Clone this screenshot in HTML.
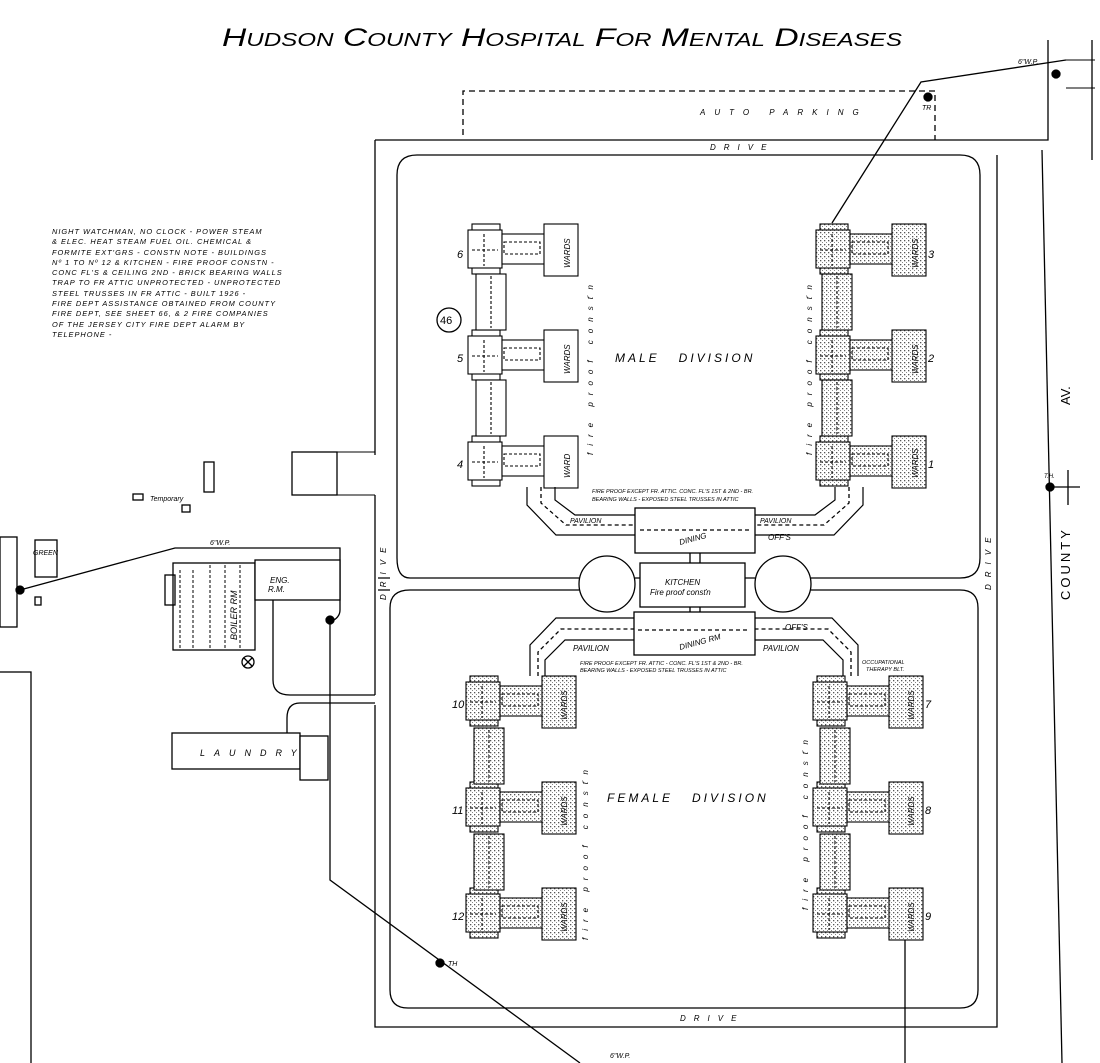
<!DOCTYPE html>
<html><head><meta charset="utf-8"><style>
html,body{margin:0;padding:0;background:#fff;}
svg{display:block;font-family:"Liberation Sans",sans-serif;font-style:italic;}
</style></head><body>
<svg width="1100" height="1063" viewBox="0 0 1100 1063" xmlns="http://www.w3.org/2000/svg">
<defs>
<pattern id="dots" width="4" height="4" patternUnits="userSpaceOnUse">
<rect width="4" height="4" fill="#fff"/><rect x="0" y="0" width="1.3" height="1.3" fill="#555"/><rect x="2" y="2" width="1" height="1" fill="#888"/>
</pattern>
<g id="unit">
<rect x="4" y="0" width="28" height="50" fill="inherit"/>
<rect x="0" y="6" width="34" height="38"/>
<rect x="34" y="10" width="44" height="30"/>
<rect x="76" y="0" width="34" height="52"/>
<path d="M36 18 H72 V30 H36 Z" fill="none" stroke-dasharray="3,2"/>
<path d="M4 26 H30 M16 10 V42" fill="none" stroke-dasharray="3,2"/>
</g>
<g id="spine"><rect x="0" y="0" width="30" height="56"/><path d="M15 2 V54" fill="none" stroke-dasharray="3,2"/></g>
</defs>
<g fill="none" stroke="#000" stroke-width="1.3" font-style="italic">
<text x="222" y="46" font-size="25" fill="#000" stroke="none" textLength="680" lengthAdjust="spacingAndGlyphs" style="font-variant:small-caps">Hudson County Hospital For Mental Diseases</text>
<!-- parking -->
<path d="M463 135 V91 H935 V140" stroke-dasharray="6,4"/>
<text x="700" y="115" font-size="8" fill="#000" stroke="none" letter-spacing="9">AUTO PARKING</text>
<!-- outer drive -->
<path d="M375 140 H1048 V40"/>
<path d="M375 140 V455 M375 495 V695 M375 705 V1027 H997 V155"/>
<path d="M1092 40 V160"/>
<path d="M1042 150 L1062 1063"/>
<path d="M1066 60 H1095 M1066 88 H1095" stroke-width="1"/>
<!-- inner upper -->
<path d="M410 578 H579 M635 578 H755 M811 578 H960 Q980 578 980 558 V175 Q980 155 960 155 H417 Q397 155 397 175 V558 Q397 578 410 578"/>
<path d="M410 590 H579 M811 590 H960 Q978 590 978 608 V990 Q978 1008 960 1008 H408 Q390 1008 390 990 V608 Q390 590 410 590"/>
<circle cx="607" cy="584" r="28" fill="#fff"/>
<circle cx="783" cy="584" r="28" fill="#fff"/>
<path d="M378 578 H390 M378 590 H390"/>
<text x="710" y="150" font-size="8" fill="#000" stroke="none" letter-spacing="8">DRIVE</text>
<text x="680" y="1021" font-size="8" fill="#000" stroke="none" letter-spacing="8">DRIVE</text>
<text font-size="8" fill="#000" stroke="none" letter-spacing="7" transform="translate(386,600) rotate(-90)">DRIVE</text>
<text font-size="8" fill="#000" stroke="none" letter-spacing="7" transform="translate(991,590) rotate(-90)">DRIVE</text>
<text font-size="13" fill="#000" stroke="none" letter-spacing="3" transform="translate(1070,600) rotate(-90)" font-style="normal">COUNTY</text>
<text font-size="13" fill="#000" stroke="none" transform="translate(1070,405) rotate(-90)" font-style="normal">AV.</text>
<path d="M1054 487 H1080 M1068 470 V505"/>
<circle cx="1050" cy="487" r="4" fill="#000"/>
<text x="1044" y="478" font-size="6" fill="#000" stroke="none">T.H.</text>
<!-- division labels -->
<text x="615" y="362" font-size="12" fill="#000" stroke="none" letter-spacing="3">MALE&#160;&#160;&#160;DIVISION</text>
<text x="607" y="802" font-size="12" fill="#000" stroke="none" letter-spacing="3">FEMALE&#160;&#160;&#160;DIVISION</text>
<text font-size="8" fill="#000" stroke="none" letter-spacing="7" transform="translate(593,455) rotate(-90)">fire proof consťn</text>
<text font-size="8" fill="#000" stroke="none" letter-spacing="7" transform="translate(812,455) rotate(-90)">fire proof consťn</text>
<text font-size="8" fill="#000" stroke="none" letter-spacing="7" transform="translate(588,940) rotate(-90)">fire proof consťn</text>
<text font-size="8" fill="#000" stroke="none" letter-spacing="7" transform="translate(808,910) rotate(-90)">fire proof consťn</text>
<!-- male units -->
<g fill="#fff" stroke="#000" stroke-width="1.1">
<use href="#unit" x="468" y="224"/><use href="#unit" x="468" y="330"/><use href="#unit" x="468" y="436"/>
<use href="#spine" x="476" y="274"/><use href="#spine" x="476" y="380"/>
</g>
<g fill="url(#dots)" stroke="#000" stroke-width="1.1">
<use href="#unit" x="816" y="224"/><use href="#unit" x="816" y="330"/><use href="#unit" x="816" y="436"/>
<use href="#spine" x="822" y="274"/><use href="#spine" x="822" y="380"/>
</g>
<!-- female units -->
<g fill="url(#dots)" stroke="#000" stroke-width="1.1">
<use href="#unit" x="466" y="676"/><use href="#unit" x="466" y="782"/><use href="#unit" x="466" y="888"/>
<use href="#spine" x="474" y="728"/><use href="#spine" x="474" y="834"/>
<use href="#unit" x="813" y="676"/><use href="#unit" x="813" y="782"/><use href="#unit" x="813" y="888"/>
<use href="#spine" x="820" y="728"/><use href="#spine" x="820" y="834"/>
</g>
<g fill="#000" stroke="none" font-size="11">
<text x="457" y="258">6</text><text x="457" y="362">5</text><text x="457" y="468">4</text>
<text x="928" y="258">3</text><text x="928" y="362">2</text><text x="928" y="468">1</text>
<text x="452" y="708">10</text><text x="452" y="814">11</text><text x="452" y="920">12</text>
<text x="925" y="708">7</text><text x="925" y="814">8</text><text x="925" y="920">9</text>
</g>
<g fill="#000" stroke="none" font-size="8">
<text transform="translate(570,268) rotate(-90)">WARDS</text><text transform="translate(570,374) rotate(-90)">WARDS</text><text transform="translate(570,478) rotate(-90)">WARD</text>
<text transform="translate(918,268) rotate(-90)">WARDS</text><text transform="translate(918,374) rotate(-90)">WARDS</text><text transform="translate(918,478) rotate(-90)">WARDS</text>
<text transform="translate(567,720) rotate(-90)">WARDS</text><text transform="translate(567,826) rotate(-90)">WARDS</text><text transform="translate(567,932) rotate(-90)">WARDS</text>
<text transform="translate(914,720) rotate(-90)">WARDS</text><text transform="translate(914,826) rotate(-90)">WARDS</text><text transform="translate(914,932) rotate(-90)">WARDS</text>
</g>
<!-- male corridor -->
<path d="M527 487 V505 L556 535 H635 M555 487 V500 L575 515 H635 M863 487 V505 L834 535 H755 M835 487 V500 L815 515 H755" stroke-width="1.2"/>
<path d="M541 487 V503 L566 525 H635 M849 487 V503 L824 525 H755" stroke-dasharray="4,3"/>
<rect x="635" y="508" width="120" height="45" fill="#fff"/>
<path d="M640 530 H750" stroke-dasharray="4,3"/>
<rect x="640" y="563" width="105" height="44" fill="#fff"/>
<path d="M690 553 V563 M700 553 V563"/>
<text x="665" y="585" font-size="8" fill="#000" stroke="none">KITCHEN</text>
<text x="650" y="595" font-size="8" fill="#000" stroke="none">Fire proof consťn</text>
<text x="680" y="545" font-size="8" fill="#000" stroke="none" transform="rotate(-15 680 545)">DINING</text>
<text x="570" y="523" font-size="7" fill="#000" stroke="none">PAVILION</text>
<text x="760" y="523" font-size="7" fill="#000" stroke="none">PAVILION</text>
<text x="768" y="540" font-size="8" fill="#000" stroke="none">OFF'S</text>
<text x="592" y="493" font-size="5.5" fill="#000" stroke="none">FIRE PROOF EXCEPT FR. ATTIC. CONC. FL'S 1ST &amp; 2ND - BR.</text>
<text x="592" y="501" font-size="5.5" fill="#000" stroke="none">BEARING WALLS - EXPOSED STEEL TRUSSES IN ATTIC</text>
<!-- female corridor -->
<path d="M530 676 V645 L556 618 H634 M545 676 V660 L565 640 H634 M858 676 V645 L832 618 H755 M843 676 V660 L823 640 H755" stroke-width="1.2"/>
<path d="M538 676 V652 L561 629 H750 M851 676 V652 L828 629 H755" stroke-dasharray="4,3"/>
<rect x="634" y="612" width="121" height="43" fill="#fff"/>
<path d="M638 630 H750" stroke-dasharray="4,3"/>
<path d="M690 607 V612 M700 607 V612"/>
<text x="680" y="650" font-size="8" fill="#000" stroke="none" transform="rotate(-15 680 650)">DINING RM</text>
<text x="573" y="651" font-size="8" fill="#000" stroke="none">PAVILION</text>
<text x="763" y="651" font-size="8" fill="#000" stroke="none">PAVILION</text>
<text x="785" y="630" font-size="8" fill="#000" stroke="none">OFF'S</text>
<text x="580" y="665" font-size="5.5" fill="#000" stroke="none">FIRE PROOF EXCEPT FR. ATTIC - CONC. FL'S 1ST &amp; 2ND - BR.</text>
<text x="580" y="672" font-size="5.5" fill="#000" stroke="none">BEARING WALLS - EXPOSED STEEL TRUSSES IN ATTIC</text>
<text x="862" y="664" font-size="5.5" fill="#000" stroke="none">OCCUPATIONAL</text>
<text x="866" y="671" font-size="5.5" fill="#000" stroke="none">THERAPY BLT.</text>
<!-- pipes -->
<path d="M1066 60 L921 82 L832 223" stroke-width="1.3"/>
<circle cx="928" cy="97" r="4" fill="#000"/><circle cx="1056" cy="74" r="4" fill="#000"/>
<text x="922" y="110" font-size="7" fill="#000" stroke="none">TR</text>
<text x="1018" y="64" font-size="7" fill="#000" stroke="none">6"W.P.</text>
<path d="M20 590 L175 548 H340 V610 Q340 618 330 622 V880 L580 1063" stroke-width="1.3"/>
<circle cx="330" cy="620" r="4" fill="#000"/><circle cx="20" cy="590" r="4" fill="#000"/><circle cx="440" cy="963" r="4" fill="#000"/>
<text x="448" y="966" font-size="7" fill="#000" stroke="none">TH</text>
<text x="610" y="1058" font-size="7" fill="#000" stroke="none">6"W.P.</text>
<text x="210" y="545" font-size="7" fill="#000" stroke="none">6"W.P.</text>
<path d="M905 940 V1063"/>
<!-- left buildings -->
<rect x="173" y="563" width="82" height="87" fill="#fff"/>
<rect x="255" y="560" width="85" height="40" fill="#fff"/>
<path d="M180 570 V650 M193 570 V650 M210 565 V650 M225 565 V650 M240 565 V650" stroke-dasharray="3,2" stroke-width="1"/>
<rect x="165" y="575" width="10" height="30"/>
<circle cx="248" cy="662" r="6"/><path d="M244 658 L252 666 M252 658 L244 666"/>
<text x="270" y="583" font-size="8" fill="#000" stroke="none">ENG.</text>
<text x="268" y="592" font-size="8" fill="#000" stroke="none">R.M.</text>
<text transform="translate(237,640) rotate(-90)" font-size="9" fill="#000" stroke="none">BOILER RM</text>
<path d="M273 600 V680 Q273 695 290 695 H375 M375 703 H300 Q287 703 287 718 V735"/>
<rect x="172" y="733" width="128" height="36" fill="#fff"/>
<rect x="300" y="736" width="28" height="44" fill="#fff"/>
<text x="200" y="756" font-size="9" fill="#000" stroke="none" letter-spacing="9">LAUNDRY</text>
<rect x="292" y="452" width="45" height="43" fill="#fff"/>
<path d="M337 452 H375 M337 495 H375" stroke-width="1"/>
<rect x="204" y="462" width="10" height="30"/>
<rect x="133" y="494" width="10" height="6"/><rect x="182" y="505" width="8" height="7"/>
<text x="150" y="501" font-size="7" fill="#000" stroke="none">Temporary</text>
<rect x="35" y="540" width="22" height="37" fill="#fff"/>
<text x="33" y="555" font-size="7" fill="#000" stroke="none">GREEN</text>
<rect x="0" y="537" width="17" height="90"/>
<rect x="-2" y="672" width="33" height="400"/>
<rect x="35" y="597" width="6" height="8"/>
<circle cx="449" cy="320" r="12"/>
<text x="440" y="324" font-size="11" fill="#000" stroke="none" font-style="normal">46</text>
</g>
<g font-size="7.4" fill="#000" letter-spacing="1" font-style="italic">
<text x="52" y="234">NIGHT WATCHMAN, NO CLOCK - POWER STEAM</text>
<text x="52" y="244">&amp; ELEC. HEAT STEAM FUEL OIL. CHEMICAL &amp;</text>
<text x="52" y="255">FORMITE EXT'GRS - CONSTN NOTE - BUILDINGS</text>
<text x="52" y="265">Nº 1 TO Nº 12 &amp; KITCHEN - FIRE PROOF CONSTN -</text>
<text x="52" y="275">CONC FL'S &amp; CEILING 2ND - BRICK BEARING WALLS</text>
<text x="52" y="285">TRAP TO FR ATTIC UNPROTECTED - UNPROTECTED</text>
<text x="52" y="296">STEEL TRUSSES IN FR ATTIC - BUILT 1926 -</text>
<text x="52" y="306">FIRE DEPT ASSISTANCE OBTAINED FROM COUNTY</text>
<text x="52" y="316">FIRE DEPT, SEE SHEET 66, &amp; 2 FIRE COMPANIES</text>
<text x="52" y="327">OF THE JERSEY CITY FIRE DEPT ALARM BY</text>
<text x="52" y="337">TELEPHONE -</text>
</g>
</svg>
</body></html>
